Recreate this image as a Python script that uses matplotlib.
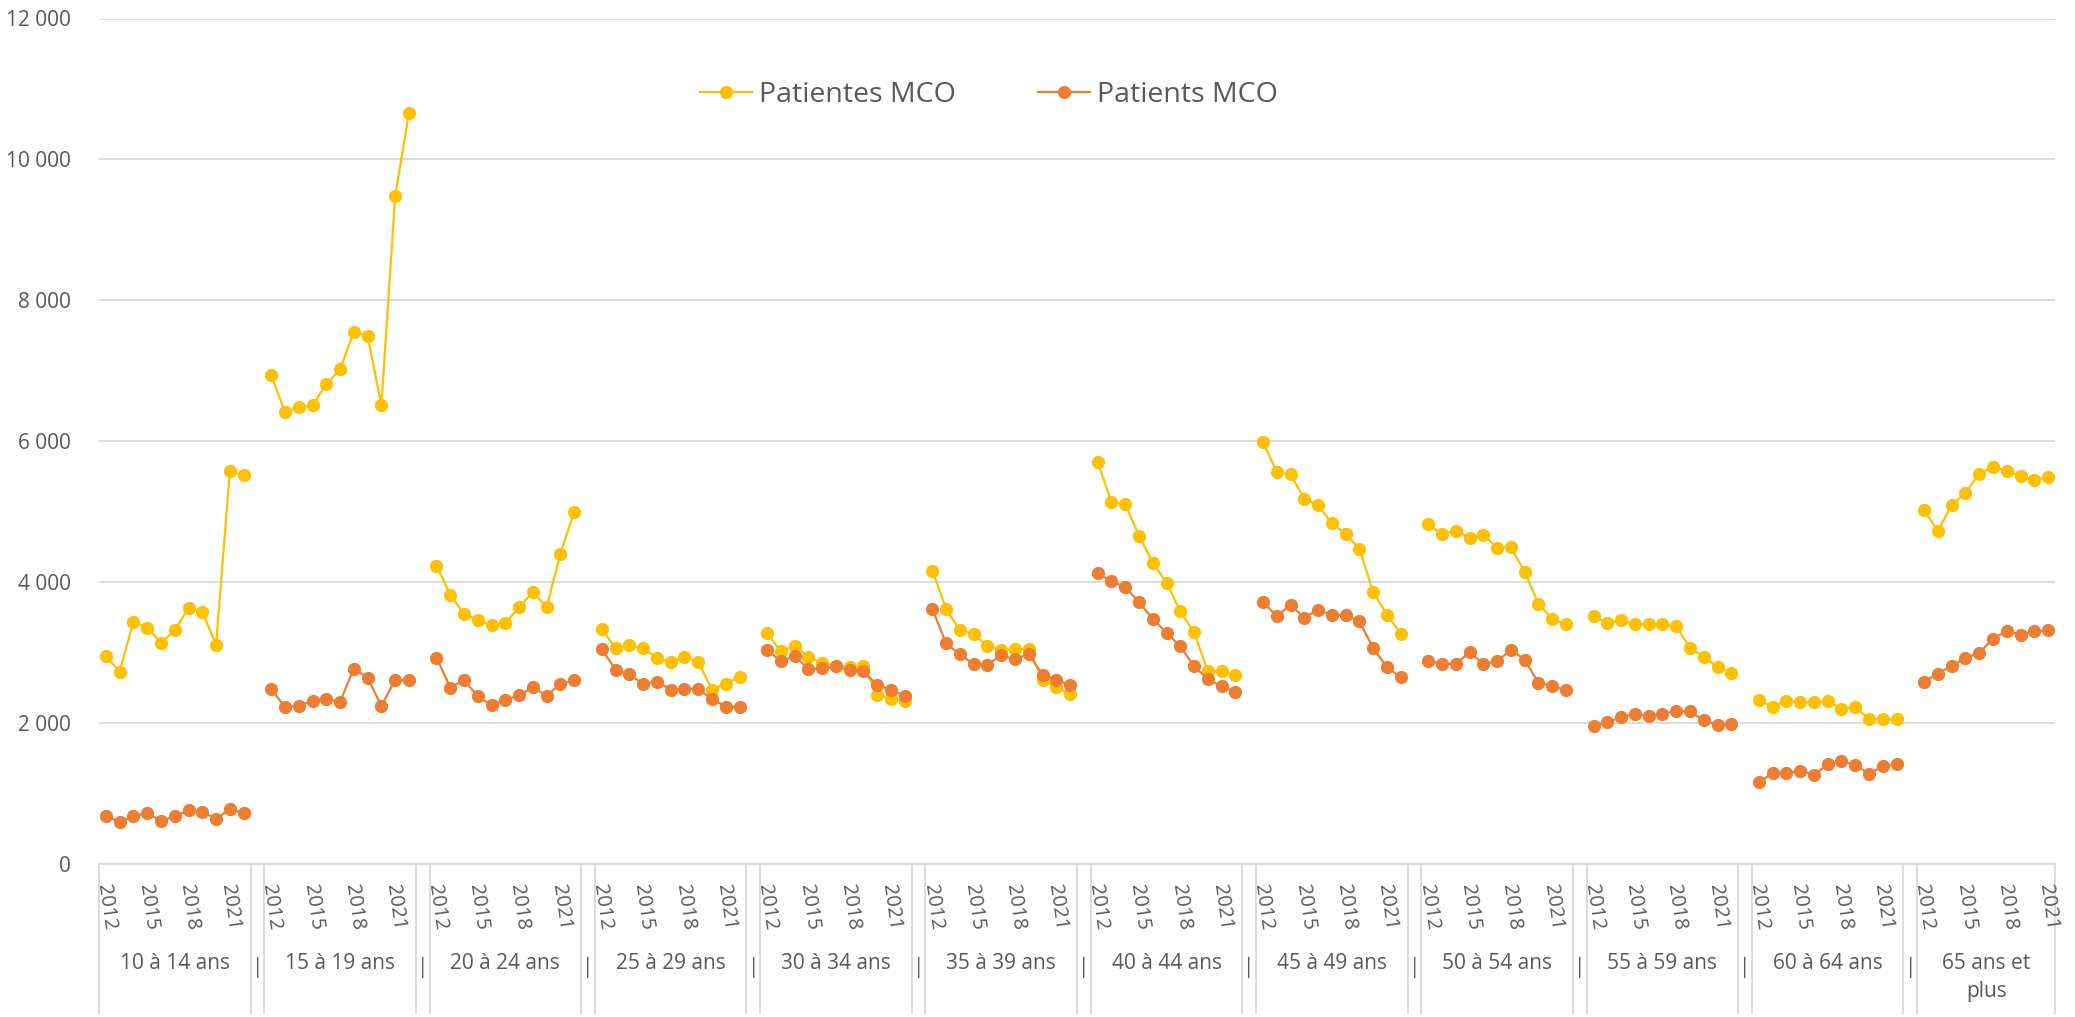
import matplotlib
matplotlib.use("Agg")
import matplotlib.pyplot as plt
import matplotlib.transforms as mtransforms
import numpy as np

plt.rcParams['font.family'] = ['Open Sans', 'DejaVu Sans']

groups = ["10 à 14 ans", "15 à 19 ans", "20 à 24 ans", "25 à 29 ans", "30 à 34 ans",
          "35 à 39 ans", "40 à 44 ans", "45 à 49 ans", "50 à 54 ans", "55 à 59 ans",
          "60 à 64 ans", "65 ans et\nplus"]
years = list(range(2012, 2023))
year_labels = ["2012", "2015", "2018", "2021"]
separator = "|"

patientes = [
    [2950, 2730, 3440, 3355, 3140, 3315, 3635, 3575, 3115, 5575, 5515],
    [6940, 6415, 6480, 6510, 6810, 7020, 7555, 7500, 6510, 9475, 10655],
    [4235, 3820, 3550, 3465, 3385, 3415, 3645, 3860, 3645, 4405, 5000],
    [3340, 3060, 3110, 3060, 2925, 2860, 2945, 2870, 2475, 2560, 2655],
    [3275, 3020, 3100, 2940, 2855, 2815, 2790, 2815, 2405, 2340, 2310],
    [4165, 3620, 3315, 3265, 3090, 3040, 3050, 3050, 2615, 2510, 2410],
    [5710, 5135, 5105, 4660, 4275, 3995, 3585, 3290, 2735, 2735, 2680],
    [5990, 5565, 5530, 5185, 5090, 4840, 4685, 4475, 3860, 3535, 3270],
    [4820, 4685, 4725, 4630, 4670, 4490, 4495, 4145, 3695, 3480, 3400],
    [3515, 3420, 3460, 3400, 3400, 3400, 3375, 3065, 2940, 2795, 2710],
    [2330, 2225, 2320, 2295, 2295, 2310, 2205, 2225, 2055, 2055, 2055],
    [5020, 4725, 5095, 5265, 5540, 5635, 5580, 5505, 5445, 5495],
]

patients = [
    [675, 600, 680, 720, 615, 675, 760, 745, 635, 785, 720],
    [2480, 2230, 2245, 2315, 2340, 2305, 2770, 2640, 2245, 2610, 2610],
    [2930, 2505, 2610, 2380, 2250, 2330, 2395, 2510, 2390, 2555, 2605],
    [3050, 2755, 2690, 2555, 2590, 2475, 2485, 2485, 2340, 2235, 2225],
    [3040, 2875, 2950, 2770, 2775, 2805, 2750, 2735, 2535, 2475, 2380],
    [3620, 3130, 2975, 2835, 2830, 2960, 2905, 2980, 2685, 2615, 2535],
    [4125, 4015, 3930, 3715, 3480, 3280, 3090, 2805, 2625, 2520, 2445],
    [3720, 3515, 3675, 3495, 3610, 3535, 3535, 3445, 3065, 2795, 2650],
    [2885, 2840, 2840, 3005, 2840, 2875, 3040, 2900, 2570, 2530, 2465],
    [1960, 2010, 2085, 2130, 2095, 2130, 2175, 2165, 2040, 1975, 1990],
    [1160, 1290, 1290, 1325, 1265, 1415, 1455, 1405, 1280, 1385, 1415],
    [2590, 2700, 2815, 2920, 2995, 3200, 3305, 3255, 3305, 3315],
]

YELLOW = "#FFC000"
ORANGE = "#ED7D31"
GRID = "#D9D9D9"
TEXT = "#595959"

W, H = 2075, 1017
fig = plt.figure(figsize=(W / 100, H / 100), dpi=100)
ax = fig.add_axes([99 / W, 1 - 864 / H, (2055 - 99) / W, (864 - 18.5) / H])

slot = 12  # 11 years + 1 separator slot
starts = [g * slot for g in range(len(groups))]
total = starts[-1] + len(patientes[-1])

for g in range(len(groups)):
    n = len(patientes[g])
    x = np.arange(n) + starts[g]
    ax.plot(x, patientes[g], color=YELLOW, lw=1.6, marker='o', ms=8.5,
            label="Patientes MCO" if g == 0 else None, zorder=3)
for g in range(len(groups)):
    n = len(patients[g])
    x = np.arange(n) + starts[g]
    ax.plot(x, patients[g], color=ORANGE, lw=1.6, marker='o', ms=8.5,
            label="Patients MCO" if g == 0 else None, zorder=4)

ax.set_xlim(-0.5, total - 0.5)
ax.set_ylim(0, 12000)
ax.set_yticks(np.arange(0, 12001, 2000))
ax.set_yticklabels([f"{v:,}".replace(",", " ") for v in range(0, 12001, 2000)],
                   color=TEXT, fontsize=15)
ax.tick_params(axis='y', length=0, pad=20)
ax.yaxis.grid(True, color=GRID, lw=1.3)
ax.set_axisbelow(True)
for s in ['left', 'right', 'top']:
    ax.spines[s].set_visible(False)
ax.spines['bottom'].set_color(GRID)
ax.spines['bottom'].set_linewidth(1.3)
ax.set_xticks([])

trans = mtransforms.blended_transform_factory(ax.transData, ax.transAxes)
ppx = 1.0 / (864 - 18.5)  # axes fraction per pixel

# year labels
for g in range(len(groups)):
    for i, yl in enumerate(year_labels):
        xi = starts[g] + years.index(int(yl))
        ax.text(xi - 0.2, -20 * ppx, yl, transform=trans, rotation=-82,
                rotation_mode='anchor', ha='left', va='center', fontsize=14.5,
                color=TEXT, clip_on=False)

# group labels, separators and divider lines
bottom = -(1013 - 864) * ppx
for g, name in enumerate(groups):
    n = len(patientes[g])
    cx = starts[g] + (n - 1) / 2
    ax.text(cx, -(953 - 864) * ppx, name, transform=trans, ha='center', va='top',
            fontsize=15, color=TEXT, linespacing=1.45, clip_on=False)
    for xb in (starts[g] - 0.5, starts[g] + n - 0.5):
        ax.plot([xb, xb], [0, bottom], transform=trans, color=GRID, lw=1.3,
                clip_on=False)
    if g < len(groups) - 1:
        ax.text(starts[g] + n, -(967 - 864) * ppx, separator, transform=trans,
                ha='center', va='center', fontsize=15, color=TEXT, clip_on=False)

leg = ax.legend(loc='center', bbox_to_anchor=(989 / W, 1 - 95 / H),
                bbox_transform=fig.transFigure, ncol=2, frameon=False,
                fontsize=20.5, handlelength=1.8, handletextpad=0.25,
                columnspacing=2.9)
for t in leg.get_texts():
    t.set_color(TEXT)

fig.savefig("out.png", dpi=100)
